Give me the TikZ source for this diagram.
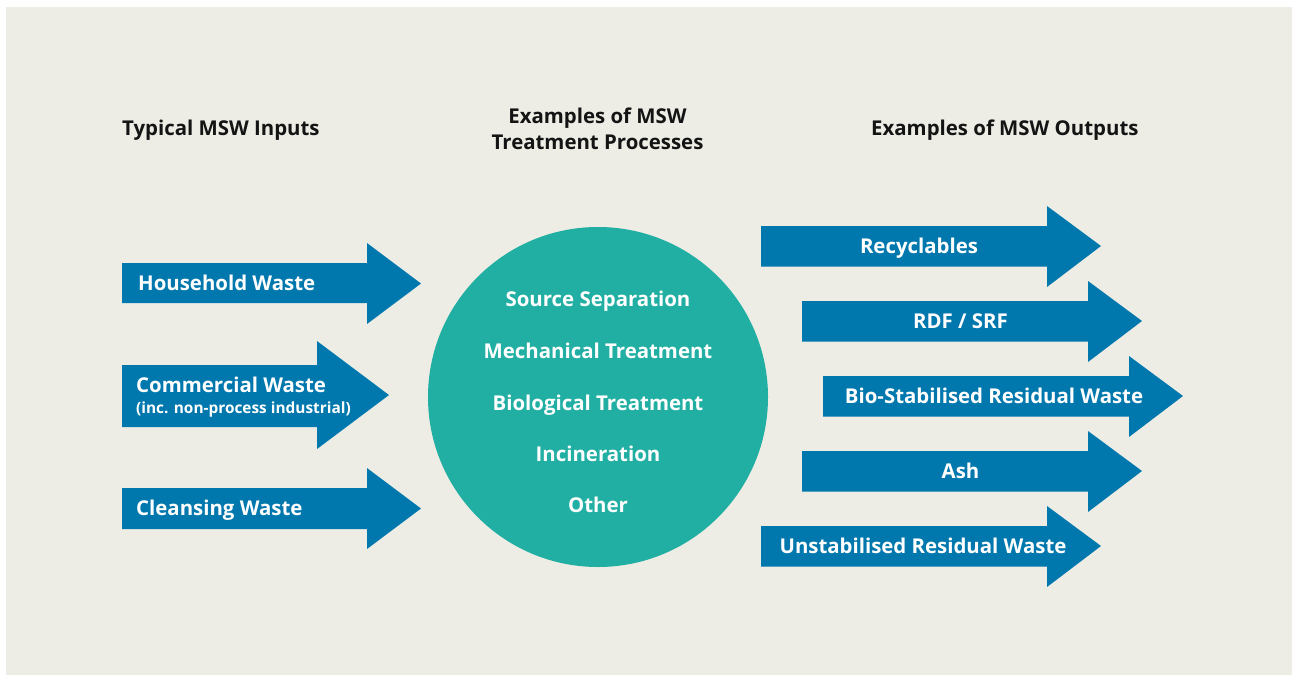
\documentclass[tikz,border=0pt]{standalone}
\usepackage{fontspec}
\setmainfont{Open Sans}
\usepackage{tikz}

\definecolor{paper}{HTML}{EDEDE6}
\definecolor{mswblue}{HTML}{0077AD}
\definecolor{mswteal}{HTML}{22AFA3}
\definecolor{ink}{HTML}{141414}

\begin{document}
\begin{tikzpicture}[x=1pt, y=-1pt,
    every node/.style={inner sep=0pt, text height=14.6pt, text depth=0pt,
        font=\fontsize{20.4}{24}\selectfont\bfseries},
    flow/.style={fill=mswblue},
    head/.style={text=ink, anchor=west},
    inlabel/.style={text=white, anchor=west},
    outlabel/.style={text=white}]
        \useasboundingbox (0,0) rectangle (1292,675);
        \fill[paper] (6,7) rectangle (1292,675);

        % Headings
        \node[head] (inhead) at (122,128.5) {Typical MSW Inputs};
        \node[text=ink] (prochead) at (597.5,116) {Examples of MSW};
        \node[text=ink] (prochead2) at (597.5,142) {Treatment Processes};
        \node[head] (outhead) at (871,128.5) {Examples of MSW Outputs};

        % Input arrows
        \fill[flow] (122,263) -- (367,263) -- (367,243) -- (421,283.5) -- (367,324) -- (367,303) -- (122,303) -- cycle;
        \fill[flow] (122,365) -- (317,365) -- (317,341) -- (389,395) -- (317,449) -- (317,427) -- (122,427) -- cycle;
        \fill[flow] (122,488) -- (367,488) -- (367,468) -- (421,508.5) -- (367,549) -- (367,529) -- (122,529) -- cycle;

        \node[inlabel] (household) at (138,283.5) {Household Waste};
        \node[inlabel] (commercial) at (136,385) {Commercial Waste};
        \node[inlabel, text height=11pt, font=\fontsize{15.4}{18}\selectfont\bfseries] (nonprocess) at (136,407.5) {(inc. non-process industrial)};
        \node[inlabel] (cleansing) at (136,508.5) {Cleansing Waste};

        % Treatment processes
        \node[circle, fill=mswteal, minimum size=340pt, text height=, text depth=] (proc) at (598,397) {};
        \node[text=white] (source) at (598,299) {Source Separation};
        \node[text=white] (mech) at (598,351) {Mechanical Treatment};
        \node[text=white] (bio) at (598,403) {Biological Treatment};
        \node[text=white] (incin) at (598,454) {Incineration};
        \node[text=white] (other) at (598,505.5) {Other};

        % Output arrows
        \fill[flow] (761,226) -- (1047,226) -- (1047,206) -- (1101,246) -- (1047,287) -- (1047,266.5) -- (761,266.5) -- cycle;
        \fill[flow] (802,301) -- (1088,301) -- (1088,281) -- (1142,321) -- (1088,362) -- (1088,341.5) -- (802,341.5) -- cycle;
        \fill[flow] (823,376) -- (1129,376) -- (1129,356) -- (1183,396) -- (1129,437) -- (1129,416.5) -- (823,416.5) -- cycle;
        \fill[flow] (802,451) -- (1088,451) -- (1088,431) -- (1142,471) -- (1088,512) -- (1088,491.5) -- (802,491.5) -- cycle;
        \fill[flow] (761,526) -- (1047,526) -- (1047,506) -- (1101,546) -- (1047,587) -- (1047,566.5) -- (761,566.5) -- cycle;

        \node[outlabel] (recyc) at (919,246) {Recyclables};
        \node[outlabel] (rdf) at (960.5,321) {RDF / SRF};
        \node[outlabel] (biostab) at (994,396) {Bio-Stabilised Residual Waste};
        \node[outlabel] (ash) at (960.5,471) {Ash};
        \node[outlabel] (unstab) at (923,546) {Unstabilised Residual Waste};
    \end{tikzpicture}
\end{document}
